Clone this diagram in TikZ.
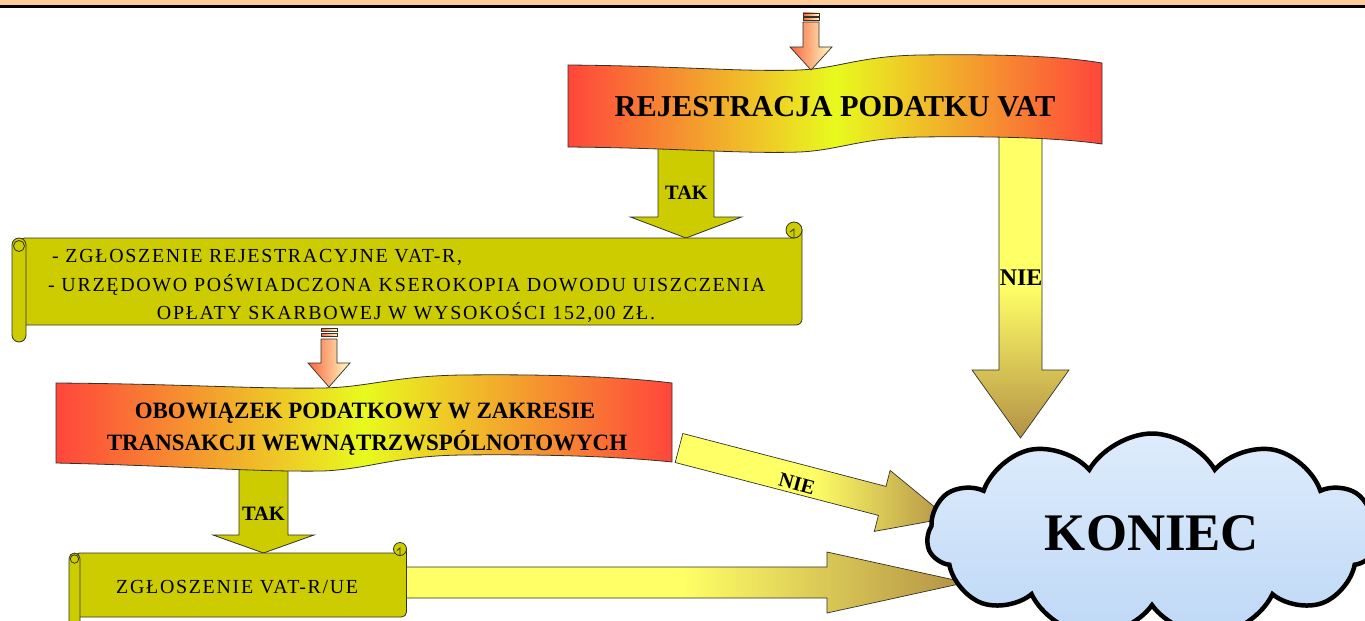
\documentclass[tikz,border=0pt]{standalone}
\usepackage{fontspec}
\setmainfont{Liberation Serif}
\newfontfamily\spaced[LetterSpace=8.5]{Liberation Serif}
\usetikzlibrary{shapes.symbols}
\definecolor{peach}{HTML}{FFCC99}
\definecolor{olive}{HTML}{CCCC00}
\definecolor{yel}{HTML}{FFFF66}
\definecolor{gold}{RGB}{180,145,70}
\definecolor{bred}{RGB}{255,70,60}
\definecolor{byel}{RGB}{232,250,30}
\definecolor{sred}{RGB}{250,100,60}
\definecolor{spale}{RGB}{255,255,200}
\definecolor{edge}{RGB}{50,50,40}
\definecolor{cloudA}{RGB}{222,236,252}
\definecolor{cloudB}{RGB}{190,216,246}
\newcommand\blkdown[7]{\path[#7] ({#1-#5},#2) -- ({#1+#5},#2) -- ({#1+#5},#3) -- ({#1+#6},#3) -- (#1,#4) -- ({#1-#6},#3) -- ({#1-#5},#3) -- cycle;}
\tikzset{
  smallarr/.style={draw=edge, line width=0.7bp, left color=sred, right color=spale},
  goldv/.style={draw=edge, line width=0.7bp, top color=yel, bottom color=gold, middle color=yel},
  goldh/.style={draw=edge, line width=0.7bp, left color=yel, right color=gold, middle color=yel},
  olivearr/.style={draw=edge, line width=0.8bp, fill=olive},
  banner/.style={draw=edge, line width=0.8bp, left color=bred, right color=bred, middle color=byel},
  scrollfill/.style={draw=edge, line width=0.8bp, fill=olive},
  regtxt/.style={font=\bfseries\fontsize{30.5}{36}\selectfont, inner sep=0pt},
  obtxt/.style={font=\bfseries\fontsize{23.5}{28}\selectfont, inner sep=0pt, xscale=0.98},
  lbl/.style={font=\bfseries\fontsize{20.5}{24}\selectfont, inner sep=0pt},
  nielbl/.style={font=\bfseries\fontsize{24}{28}\selectfont, inner sep=0pt},
  scrolltxt/.style={font=\spaced\fontsize{20}{23}\selectfont, inner sep=0pt},
  endtxt/.style={font=\bfseries\fontsize{53}{60}\selectfont, inner sep=0pt},
}
\begin{document}
\begin{tikzpicture}[x=1bp,y=-1bp]
\useasboundingbox (0,0) rectangle (1365,621);
\clip (0,0) rectangle (1365,621);
\fill[white] (0,0) rectangle (1365,621);
% top bar
\fill[peach] (0,0) rectangle (1365,6);
\draw[black, line width=2.4bp] (0,6.5) -- (1365,6.5);
% block arrows (behind boxes)
\blkdown{1020.5}{135}{370}{438}{21.5}{48.5}{goldv}
\blkdown{686}{148}{217}{238}{28}{55.5}{olivearr}
\blkdown{263.5}{462}{535}{553}{24.5}{50.5}{olivearr}
\path[goldh] (400,567) -- (827,567) -- (827,552) -- (966,582.5) -- (827,613) -- (827,598) -- (400,598) -- cycle;
\path[goldh] (682.8,433.5) -- (886.0,486.4) -- (890.1,470.4) -- (948,518) -- (874.3,531.4) -- (878.4,515.4) -- (675.2,462.5) -- cycle;
% banner 1
\path[banner] (568,65) .. controls (680,66) and (740,72) .. (800,70) .. controls (840,68) and (860,56) .. (920,55) .. controls (1000,54) and (1060,56) .. (1102,63) -- (1102,144) .. controls (1060,138) and (1000,136) .. (920,137) .. controls (860,138) and (840,150) .. (800,152) .. controls (740,154) and (680,148) .. (568,147) -- cycle;
% banner 2
\path[banner] (56,383) .. controls (185,384) and (253,389) .. (323,388) .. controls (370,387) and (393,376) .. (462,375) .. controls (554,374) and (623,377) .. (672,383) -- (672,462) .. controls (623,457) and (554,454) .. (462,455) .. controls (393,456) and (370,469) .. (323,471) .. controls (253,472) and (185,466) .. (56,463) -- cycle;
% small arrows
\path[smallarr] (803,13) rectangle (819,16);
\path[smallarr] (803,17.5) rectangle (819,20.5);
\blkdown{811}{22}{47}{70}{8}{21}{smallarr}
\path[smallarr] (321,328) rectangle (337,331);
\path[smallarr] (321,333) rectangle (337,336.5);
\blkdown{329}{339}{363}{387}{8}{21}{smallarr}
% scroll 1
\path[scrollfill] (19,238) -- (794,238) -- (802,230) -- (802,319) [rounded corners=6] -- (802,325) -- (19,325) -- cycle;
\path[scrollfill] (794,230) circle (8);
\draw[edge, line width=0.8bp] (794,238) -- (794,229) -- (790,232);
\path[scrollfill, rounded corners=7] (12,238) rectangle (26,342);
\draw[edge, line width=0.8bp] (19,246) circle (5.5);
% scroll 2
\path[scrollfill] (74.5,553) -- (400,553) -- (406.5,549) -- (406.5,612) [rounded corners=5] -- (406.5,617) -- (74.5,617) -- cycle;
\path[scrollfill] (400,549) circle (6.5);
\draw[edge, line width=0.8bp] (400,555.5) -- (400,548) -- (397,550.5);
\path[scrollfill, rounded corners=5.5] (69,553) rectangle (80,630);
\draw[edge, line width=0.8bp] (74.5,559) circle (4.2);
% texts
\node[regtxt, anchor=base] (reg) at (835,117) {REJESTRACJA PODATKU VAT};
\node[lbl, anchor=base] (tak1) at (686.5,200) {TAK};
\node[scrolltxt, anchor=base west] (d1) at (52,262) {- ZGŁOSZENIE REJESTRACYJNE VAT-R,};
\node[scrolltxt, anchor=base west] (d2) at (48,291) {- URZĘDOWO POŚWIADCZONA KSEROKOPIA DOWODU UISZCZENIA};
\node[scrolltxt, anchor=base] (d3) at (406,319) {OPŁATY SKARBOWEJ W WYSOKOŚCI 152,00 ZŁ.};
\node[obtxt, anchor=base] (o1) at (365,418) {OBOWIĄZEK PODATKOWY W ZAKRESIE};
\node[obtxt, anchor=base] (o2) at (367,450) {TRANSAKCJI WEWNĄTRZWSPÓLNOTOWYCH};
\node[lbl, anchor=base] (tak2) at (263.5,520) {TAK};
\node[scrolltxt, anchor=base west] (z) at (116,593) {ZGŁOSZENIE VAT-R/UE};
\node[nielbl, anchor=base] (nie1) at (1021,285) {NIE};
\node[lbl, rotate=-15] (nie2) at (797,484) {NIE};
% cloud
\node[cloud, cloud puffs=11, cloud puff arc=120, aspect=2.2, minimum width=450bp, minimum height=205bp, draw=black, line width=4.5bp, top color=cloudA, bottom color=cloudB, inner sep=0pt] (cl) at (1152,536) {};
\node[endtxt, anchor=base] (koniec) at (1152,550) {KONIEC};
\end{tikzpicture}
\end{document}
